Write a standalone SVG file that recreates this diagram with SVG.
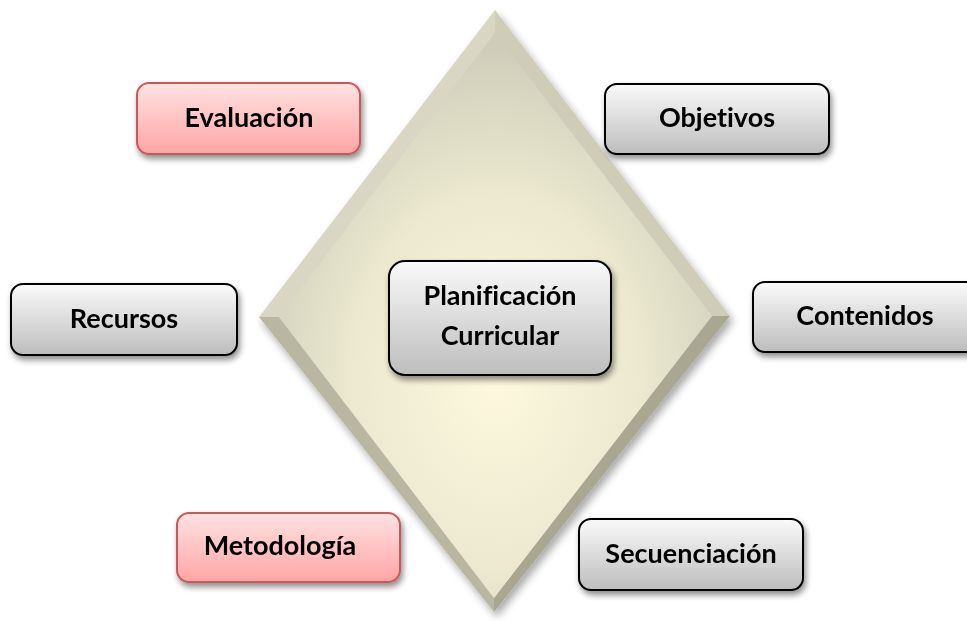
<svg xmlns="http://www.w3.org/2000/svg" width="967" height="621" viewBox="0 0 967 621">
<defs>
<radialGradient id="core" cx="0.5" cy="0.62" r="0.6">
<stop offset="0" stop-color="#fdf8de"/>
<stop offset="0.55" stop-color="#ece9d0"/>
<stop offset="1" stop-color="#cfcdb9"/>
</radialGradient>
<linearGradient id="gray" x1="0" y1="0" x2="0" y2="1">
<stop offset="0" stop-color="#fafafa"/>
<stop offset="1" stop-color="#bdbdbd"/>
</linearGradient>
<linearGradient id="pink" x1="0" y1="0" x2="0" y2="1">
<stop offset="0" stop-color="#ffe2e2"/>
<stop offset="1" stop-color="#ffa5a5"/>
</linearGradient>
<filter id="sh" x="-20%" y="-20%" width="140%" height="150%">
<feGaussianBlur in="SourceAlpha" stdDeviation="3"/>
<feOffset dx="2" dy="4" result="b"/>
<feComponentTransfer><feFuncA type="linear" slope="0.45"/></feComponentTransfer>
<feMerge><feMergeNode/><feMergeNode in="SourceGraphic"/></feMerge>
</filter>
<filter id="dsh" x="-20%" y="-20%" width="140%" height="140%">
<feGaussianBlur in="SourceAlpha" stdDeviation="4"/>
<feOffset dx="3" dy="5"/>
<feComponentTransfer><feFuncA type="linear" slope="0.35"/></feComponentTransfer>
<feMerge><feMergeNode/><feMergeNode in="SourceGraphic"/></feMerge>
</filter>
</defs>
<style>
.g{fill:url(#gray);stroke:#000;stroke-width:2}
.p{fill:url(#pink);stroke:#c9585a;stroke-width:2}
.t{font-family:Lato,"Noto Sans",sans-serif;font-weight:bold;font-size:27px;fill:#000;text-anchor:middle;font-variant-ligatures:none}
</style>
<rect width="967" height="621" fill="#fff"/>
<g id="diamond" filter="url(#dsh)">
<polygon points="495,10 259,317 279,317 495,33" fill="#d9d7c3"/>
<polygon points="495,10 730,316 712,316 495,33" fill="#cfcdb8"/>
<polygon points="259,317 494,612 494,598 279,317" fill="#b9b7a2"/>
<polygon points="730,316 494,612 494,598 712,316" fill="#a9a792"/>
<polygon points="495,33 712,316 494,598 279,317" fill="url(#core)"/>
</g>
<g id="connectors"></g>
<g id="evaluacion" filter="url(#sh)"><rect class="p" x="137" y="83" width="223" height="71" rx="12"/><text class="t" x="249" y="127">Evaluación</text></g>
<g id="objetivos" filter="url(#sh)"><rect class="g" x="605" y="84" width="224" height="70" rx="12"/><text class="t" x="717" y="127">Objetivos</text></g>
<g id="recursos" filter="url(#sh)"><rect class="g" x="11" y="284" width="226" height="71" rx="12"/><text class="t" x="124" y="328">Recursos</text></g>
<g id="contenidos" filter="url(#sh)"><rect class="g" x="753" y="282" width="226" height="70" rx="12"/><text class="t" x="865" y="325">Contenidos</text></g>
<g id="planificacion" filter="url(#sh)"><rect class="g" x="389" y="261" width="222" height="114" rx="16"/><text class="t" x="500" y="305">Planificación</text><text class="t" x="500" y="345">Curricular</text></g>
<g id="metodologia" filter="url(#sh)"><rect class="p" x="177" y="513" width="223" height="69" rx="12"/><text class="t" x="280" y="555">Metodología</text></g>
<g id="secuenciacion" filter="url(#sh)"><rect class="g" x="579" y="519" width="224" height="71" rx="12"/><text class="t" x="691" y="563">Secuenciación</text></g>
</svg>
